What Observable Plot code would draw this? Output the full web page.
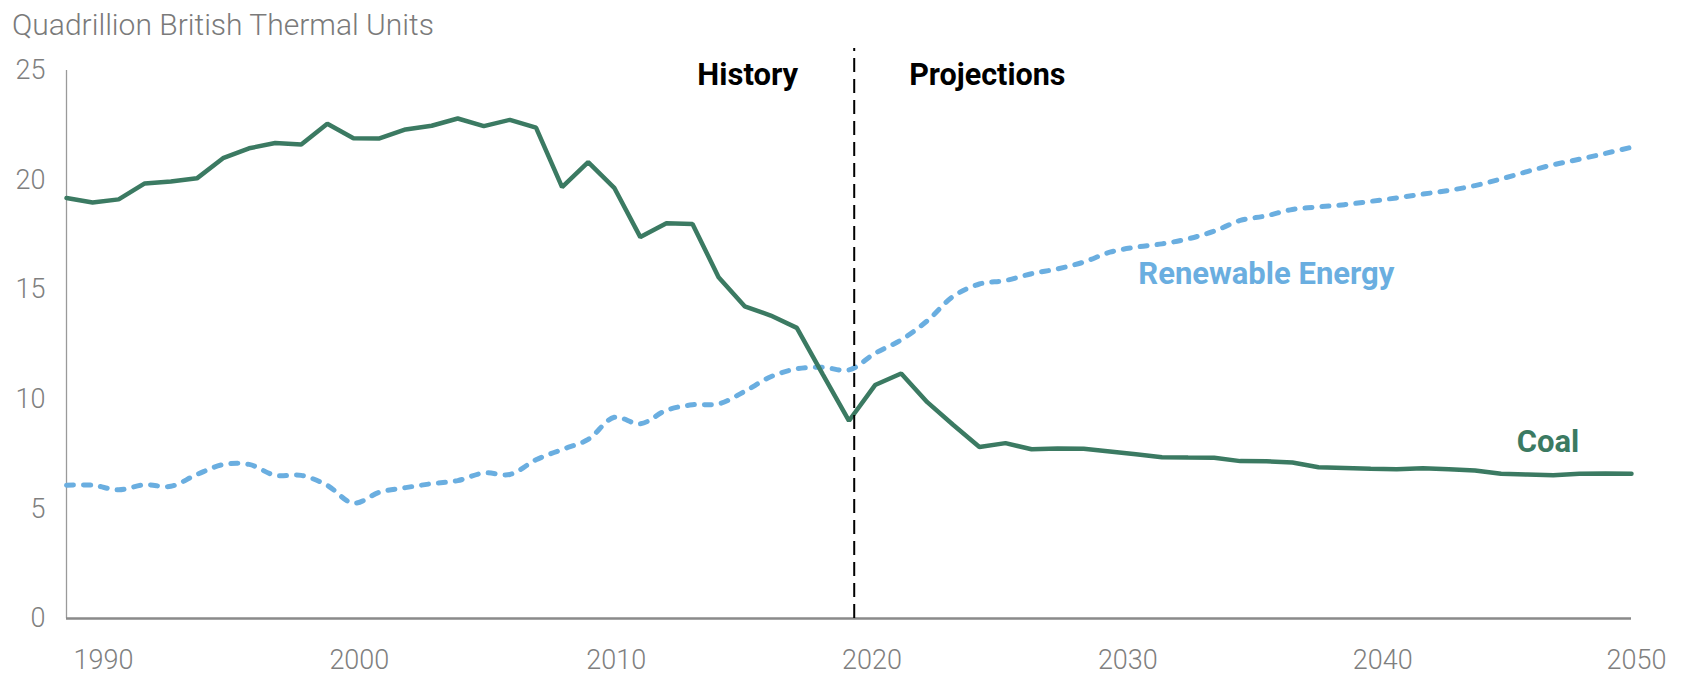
<!DOCTYPE html>
<html>
<head>
<meta charset="utf-8">
<script src="https://cdn.jsdelivr.net/npm/d3@7"></script>
<script src="https://cdn.jsdelivr.net/npm/@observablehq/plot@0.6"></script>
<style>
  html, body { margin: 0; padding: 0; background: #ffffff; }
  #title {
    height: 50px; line-height: 50px; padding-left: 12px;
    font-family: Roboto, "Noto Sans", sans-serif; font-weight: 300;
    font-size: 30px; color: #7a7a7a; white-space: nowrap;
  }
  #chart svg { display: block; }
</style>
</head>
<body>
<div id="title">Quadrillion British Thermal Units</div>
<div id="chart"></div>
<script>
// ---- data ----
const years = [1990,1991,1992,1993,1994,1995,1996,1997,1998,1999,
               2000,2001,2002,2003,2004,2005,2006,2007,2008,2009,
               2010,2011,2012,2013,2014,2015,2016,2017,2018,2019,
               2020,2021,2022,2023,2024,2025,2026,2027,2028,2029,
               2030,2031,2032,2033,2034,2035,2036,2037,2038,2039,
               2040,2041,2042,2043,2044,2045,2046,2047,2048,2049,2050];

const coal = [19.18,18.98,19.12,19.85,19.94,20.08,21.00,21.45,21.69,21.62,
              22.57,21.91,21.90,22.31,22.48,22.81,22.46,22.75,22.39,19.68,
              20.82,19.65,17.40,18.03,18.00,15.57,14.24,13.82,13.26,11.13,
              9.02,10.65,11.18,9.87,8.83,7.82,8.00,7.72,7.75,7.74,
              7.62,7.49,7.36,7.34,7.33,7.18,7.17,7.12,6.90,6.87,
              6.83,6.81,6.85,6.81,6.75,6.60,6.57,6.53,6.60,6.62,6.60];

const renewable = [6.08,6.08,5.87,6.10,6.03,6.57,7.02,7.03,6.53,6.53,
                   6.07,5.26,5.76,5.97,6.15,6.29,6.64,6.57,7.24,7.71,
                   8.17,9.18,8.88,9.50,9.75,9.79,10.36,11.03,11.39,11.46,
                   11.34,12.10,12.71,13.58,14.70,15.26,15.42,15.73,15.95,16.26,
                   16.71,16.94,17.09,17.32,17.67,18.16,18.37,18.66,18.78,18.88,
                   19.03,19.19,19.36,19.53,19.75,20.05,20.39,20.70,20.95,21.22,21.50];

const yTicks = [0, 5, 10, 15, 20, 25];
const xTicks = [1990, 2000, 2010, 2020, 2030, 2040, 2050];

const historyEnd = 2020.2;
const periodLabels = ["History", "Projections"];
const seriesNames = ["Renewable Energy", "Coal"];
const seriesLabelYear = [2036, 2046.8];
const seriesLabelValue = [15.72, 8.05];

// ---- layout / style ----
const tickLabelShift = [37, 32, 28, 23, 18, 12, 5];   // px, horizontal nudge of each year label
const seriesColors = {"Coal": "#3b7a62", "Renewable Energy": "#6aaee0"};
const tickColor = "#7f7f7f";
const fontFamily = "Roboto, 'Noto Sans', sans-serif";

// ---- build tables ----
const coalData = years.map((year, i) => ({year, value: coal[i]}));
const renData = years.map((year, i) => ({year, value: renewable[i]}));
const seriesLabelData = seriesNames.map((name, i) => ({name, year: seriesLabelYear[i], value: seriesLabelValue[i]}));

const xAxisMarks = xTicks.map((t, i) =>
  Plot.axisX([t], {tickSize: 0, tickPadding: 31, dx: tickLabelShift[i], fontSize: 27, fill: tickColor, fontWeight: 300, tickFormat: d => String(d), label: null})
);

const chart = Plot.plot({
  width: 1700,
  height: 637,
  marginLeft: 66,
  marginRight: 69,
  marginTop: 20,
  marginBottom: 69,
  style: {fontFamily, background: "#ffffff", overflow: "visible"},
  x: {domain: [1990, 2050]},
  y: {domain: [0, 25]},
  marks: [
    Plot.axisY(yTicks, {tickSize: 0, tickPadding: 21, fontSize: 27, fill: tickColor, fontWeight: 300, tickFormat: d => String(d), label: null}),
    ...xAxisMarks,
    Plot.ruleX([years[0]], {stroke: "#9a9a9a", strokeWidth: 1.3}),
    Plot.ruleY([0], {stroke: "#8a8a8a", strokeWidth: 2.5}),
    Plot.line(renData, {x: "year", y: "value", stroke: seriesColors["Renewable Energy"], strokeWidth: 5, strokeDasharray: "7,10", strokeLinecap: "round", curve: "catmull-rom"}),
    Plot.line(coalData, {x: "year", y: "value", stroke: seriesColors["Coal"], strokeWidth: 4.5, strokeLinejoin: "miter"}),
    Plot.ruleX([historyEnd], {y1: 0, y2: 26.0, stroke: "#000000", strokeWidth: 2, strokeDasharray: "14,7"}),
    Plot.text([periodLabels[0]], {x: historyEnd, y: 24.8, text: d => d, textAnchor: "end", dx: -56, fontSize: 31, fontWeight: "bold", fill: "#000000"}),
    Plot.text([periodLabels[1]], {x: historyEnd, y: 24.8, text: d => d, textAnchor: "start", dx: 55, fontSize: 30.5, fontWeight: "bold", fill: "#000000"}),
    Plot.text(seriesLabelData, {x: "year", y: "value", text: "name", fill: d => seriesColors[d.name], fontSize: 31, fontWeight: "bold", textAnchor: "middle"})
  ]
});
document.getElementById("chart").appendChild(chart);
</script>
</body>
</html>
